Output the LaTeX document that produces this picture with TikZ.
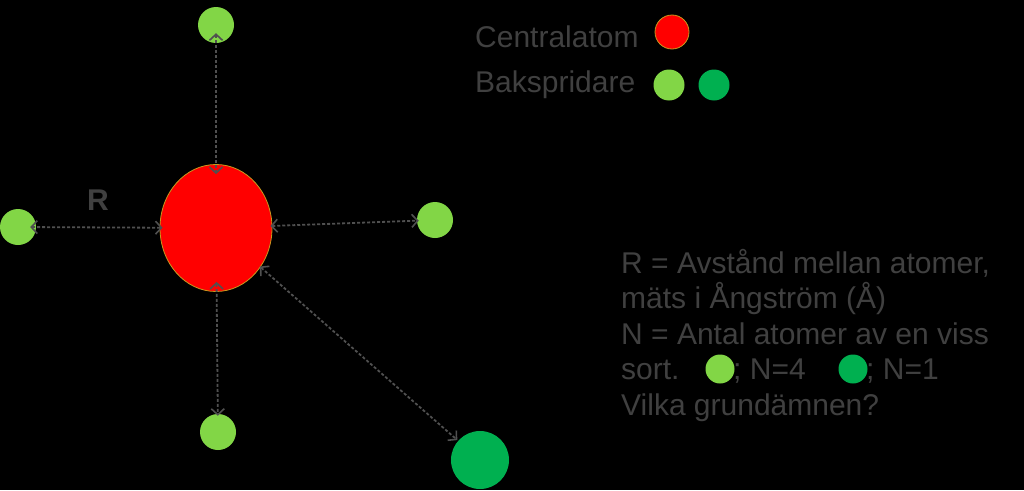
\documentclass[tikz,border=0pt]{standalone}
\usepackage{fontspec}
\setmainfont{Liberation Sans}
\usetikzlibrary{shapes.geometric,arrows.meta}
\definecolor{txtgray}{HTML}{404040}
\definecolor{arrgray}{HTML}{505050}
\definecolor{lgreen}{HTML}{82D646}
\definecolor{dgreen}{HTML}{00B050}
\definecolor{rim}{HTML}{C89A1E}
\tikzset{
  atom/.style={circle,inner sep=0pt,minimum size=#1},
  lg/.style={atom=#1,fill=lgreen},
  dg/.style={atom=#1,fill=dgreen},
  rd/.style={atom=#1,fill=red,draw=rim,line width=0.8pt},
  lbl/.style={text=txtgray,font=\fontsize{30}{36}\selectfont,anchor=base west,inner sep=0pt},
  conn/.style={draw=arrgray,line width=1.8pt,dash pattern=on 3pt off 2pt,
    {Straight Barb[length=6pt,width=13pt,line width=1.6pt]}-{Straight Barb[length=6pt,width=13pt,line width=1.6pt]}}
}
\begin{document}
\begin{tikzpicture}[x=1pt,y=-1pt]
\useasboundingbox[fill=black] (0,0) rectangle (1024,490);
% central atom
\node[ellipse,fill=red,draw=rim,line width=0.8pt,minimum width=112pt,minimum height=127pt,inner sep=0pt] (ctr) at (216,228) {};
% backscatterers
\node[lg=36pt] (top) at (216,25) {};
\node[lg=36pt] (lft) at (18,227) {};
\node[lg=36pt] (rgt) at (435,220) {};
\node[lg=36pt] (bot) at (218,432) {};
\node[dg=58pt] (big) at (480,460) {};
% connectors
\draw[conn,shorten <=-10pt,shorten >=-10pt] (top) -- (ctr);
\draw[conn,shorten <=-6pt,shorten >=-3pt] (lft) -- (ctr);
\draw[conn,shorten <=-2pt,shorten >=-2pt] (ctr) -- (rgt);
\draw[conn,shorten <=-10pt,shorten >=-2pt] (ctr) -- (bot);
\draw[conn,shorten <=-1pt,shorten >=1pt] (ctr) -- (big);
% R label
\node[text=txtgray,font=\fontsize{30}{36}\selectfont\bfseries,inner sep=0pt] (rl) at (98,200) {R};
% legend
\node[lbl] (cl) at (475,47) {Centralatom};
\node[rd=34pt] (cred) at (672,32) {};
\node[lbl] (bl) at (475,92) {Bakspridare};
\node[lg=31pt] (bl1) at (669,85) {};
\node[dg=31pt] (bl2) at (714,85) {};
% explanation
\node[lbl] (t1) at (621,273) {R = Avstånd mellan atomer,};
\node[lbl] (t2) at (621,308.5) {mäts i Ångström (Å)};
\node[lbl] (t3) at (621,344) {N = Antal atomer av en viss};
\node[lbl] (t4) at (621,379.5) {sort.};
\node[lg=29pt] (c4) at (720,369) {};
\node[lbl] (t4b) at (733,379.5) {; N=4};
\node[dg=29pt] (c5) at (853,369) {};
\node[lbl] (t4c) at (866,379.5) {; N=1};
\node[lbl] (t5) at (621,415) {Vilka grundämnen?};
\end{tikzpicture}
\end{document}
